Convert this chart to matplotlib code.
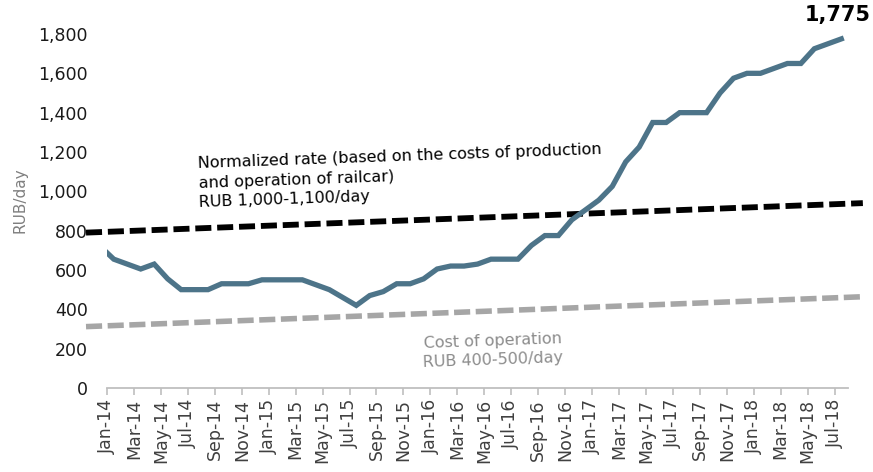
import numpy as np
import matplotlib
matplotlib.use("Agg")
import matplotlib.pyplot as plt

# monthly rate, Dec-13 .. Jul-18 (RUB/day)
months = ["Dec-13",
          "Jan-14", "Feb-14", "Mar-14", "Apr-14", "May-14", "Jun-14",
          "Jul-14", "Aug-14", "Sep-14", "Oct-14", "Nov-14", "Dec-14",
          "Jan-15", "Feb-15", "Mar-15", "Apr-15", "May-15", "Jun-15",
          "Jul-15", "Aug-15", "Sep-15", "Oct-15", "Nov-15", "Dec-15",
          "Jan-16", "Feb-16", "Mar-16", "Apr-16", "May-16", "Jun-16",
          "Jul-16", "Aug-16", "Sep-16", "Oct-16", "Nov-16", "Dec-16",
          "Jan-17", "Feb-17", "Mar-17", "Apr-17", "May-17", "Jun-17",
          "Jul-17", "Aug-17", "Sep-17", "Oct-17", "Nov-17", "Dec-17",
          "Jan-18", "Feb-18", "Mar-18", "Apr-18", "May-18", "Jun-18",
          "Jul-18"]
rate = [720,
        655, 630, 605, 630, 555, 500,
        500, 500, 530, 530, 530, 550,
        550, 550, 550, 525, 500, 460,
        420, 470, 490, 530, 530, 555,
        605, 620, 620, 630, 655, 655,
        655, 725, 775, 775, 855, 905,
        955, 1025, 1150, 1225, 1350, 1350,
        1400, 1400, 1400, 1500, 1575, 1600,
        1600, 1625, 1650, 1650, 1725, 1750,
        1775]

# trend lines (start, end)
norm_rate = [790, 940]
op_cost = [312, 464]

tick_labels = months[1::2]

blue = "#4d7489"
gray_axis = "#bfbfbf"

fig = plt.figure(figsize=(8.73, 4.72), dpi=100)
ax = fig.add_axes([0.1226, 0.178, 0.8488, 0.750])

x = np.arange(len(months)) - 0.5
ax.plot(x, rate, color=blue, lw=3.8, solid_joinstyle="miter", zorder=3)

trend_x = [-1.56, 56.1]
ax.plot(trend_x, norm_rate, color="black", lw=4.2, dashes=(2.75, 1.0),
        clip_on=False, zorder=2)
ax.plot(trend_x, op_cost, color="#a6a6a6", lw=4.0, dashes=(2.9, 1.0),
        clip_on=False, zorder=2)

ax.set_xlim(0, 55)
ax.set_ylim(0, 1800)
ax.set_yticks(range(0, 1801, 200))
ax.set_yticklabels([f"{v:,}" for v in range(0, 1801, 200)])
ax.set_xticks(np.arange(0, 55, 2))
ax.set_xticklabels(tick_labels, rotation=90)

for s in ["top", "right", "left"]:
    ax.spines[s].set_visible(False)
ax.spines["bottom"].set_color(gray_axis)
ax.spines["bottom"].set_linewidth(1.3)
ax.tick_params(axis="x", colors=gray_axis, length=5, width=1.2,
               labelcolor="#404040", labelsize=12.5, pad=3)
ax.tick_params(axis="y", length=0, labelcolor="#1a1a1a", labelsize=12.5, pad=14)

ax.set_ylabel("RUB/day", color="#7f7f7f", fontsize=11)
ax.yaxis.set_label_coords(-0.107, 0.53)

ax.text(6.7, 1180, "Normalized rate (based on the costs of production\n"
        "and operation of railcar)\nRUB 1,000-1,100/day",
        fontsize=11.5, color="black", ha="left", va="top", rotation=2,
        rotation_mode="anchor", linespacing=1.4)
ax.text(28.6, 278, "Cost of operation\nRUB 400-500/day",
        fontsize=11.5, color="#8c8c8c", ha="center", va="top", rotation=2,
        rotation_mode="anchor", multialignment="center", linespacing=1.35)

ax.text(54.2, 1897, f"{rate[-1]:,}", fontsize=15, fontweight="bold",
        ha="center", va="center", clip_on=False)

fig.savefig("out.png", dpi=100)
